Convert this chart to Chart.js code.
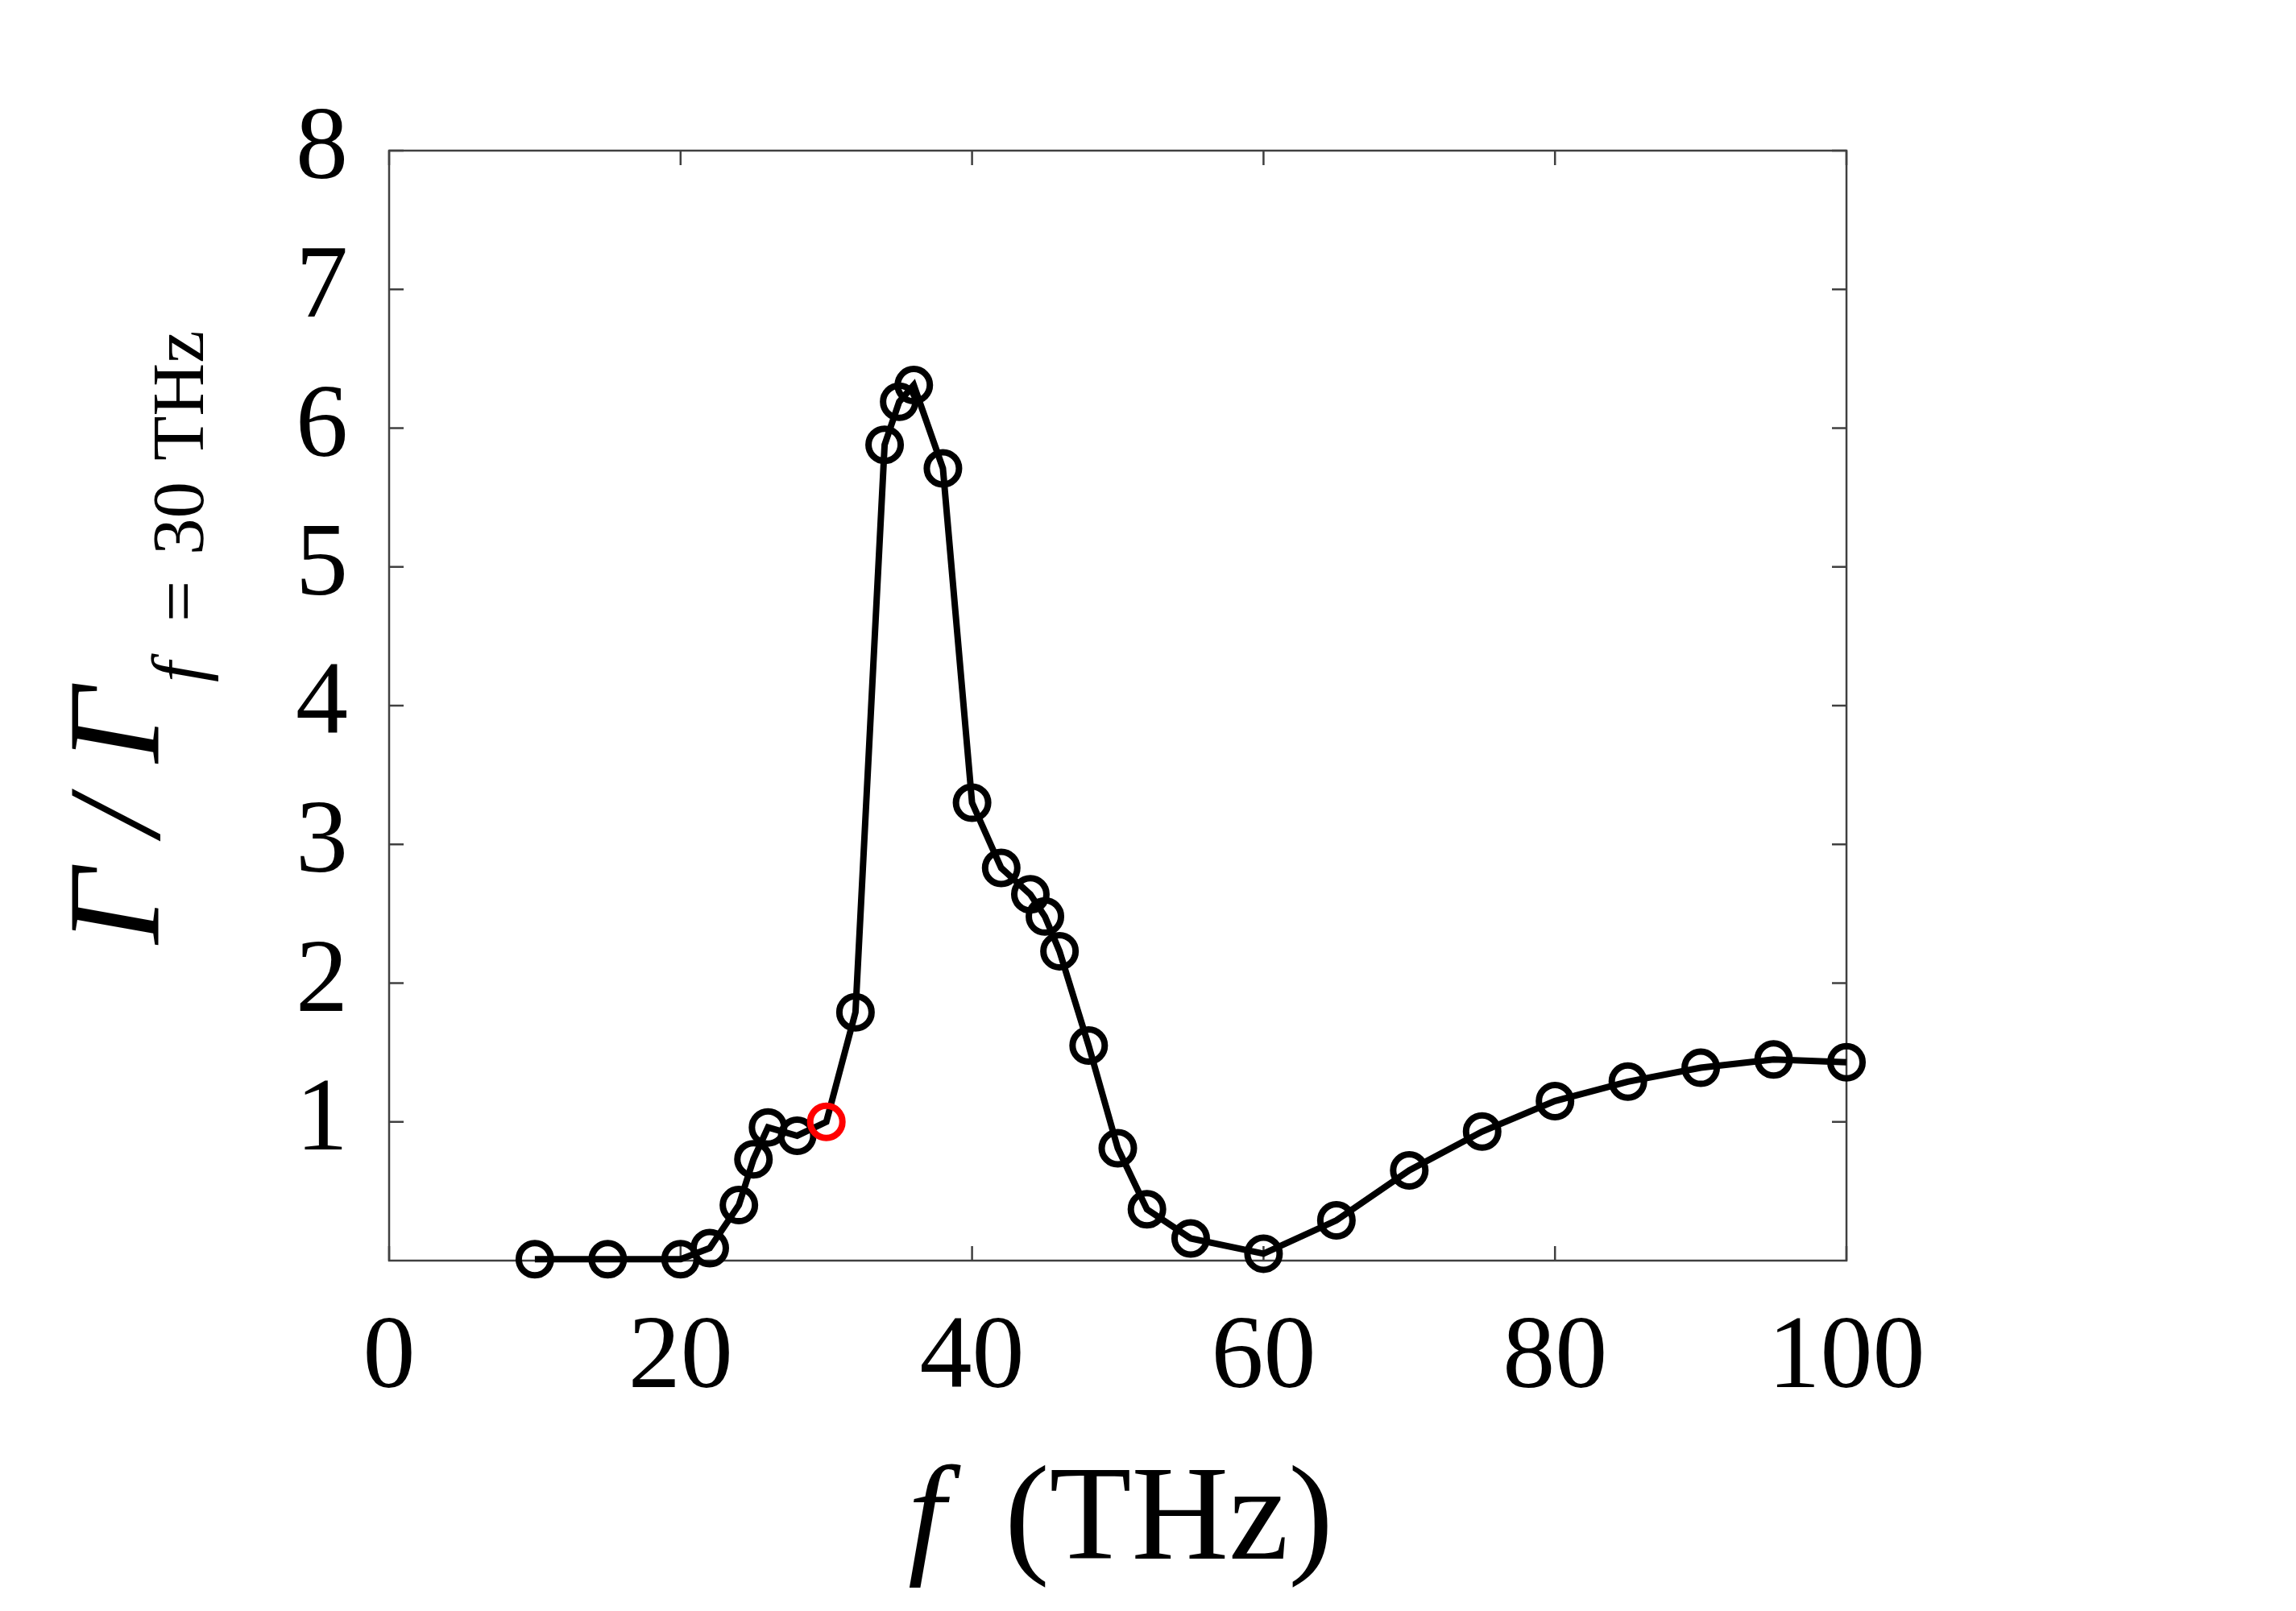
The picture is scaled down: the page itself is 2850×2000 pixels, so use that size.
<!DOCTYPE html>
<html><head><meta charset="utf-8">
<script src="https://cdn.jsdelivr.net/npm/chart.js@4.4.0/dist/chart.umd.min.js"></script>
<style>html,body{margin:0;padding:0;background:#fff;overflow:hidden}</style>
</head><body>
<canvas id="c" width="2850" height="2000" style="width:2850px;height:2000px;display:block"></canvas>
<script>
// ---- data ----
const frequencies = [10,15,20,22,24,25,26,28,30,32,34,35,36,38,40,42,44,45,46,48,50,52,55,60,65,70,75,80,85,90,95,100];
const ratios = [0.01,0.01,0.01,0.09,0.40,0.73,0.96,0.90,1.00,1.79,5.88,6.19,6.31,5.71,3.30,2.83,2.64,2.48,2.23,1.55,0.81,0.37,0.16,0.05,0.29,0.65,0.93,1.15,1.29,1.39,1.45,1.43];
const referenceFrequency = 30;
const xTicks = [0,20,40,60,80,100];
const yTicks = [1,2,3,4,5,6,7,8];

const SERIF = '"Liberation Serif", "Times New Roman", serif';

const framePlugin = {
  id: 'frame',
  beforeDatasetsDraw(chart) {
    const {ctx, chartArea: a, scales: {x, y}} = chart;
    ctx.save();
    ctx.strokeStyle = '#404040';
    ctx.lineWidth = 2.5;
    ctx.strokeRect(a.left, a.top, a.right - a.left, a.bottom - a.top);
    const L = 18;
    ctx.beginPath();
    x.ticks.forEach(t => {
      const px = x.getPixelForValue(t.value);
      ctx.moveTo(px, a.bottom); ctx.lineTo(px, a.bottom - L);
      ctx.moveTo(px, a.top); ctx.lineTo(px, a.top + L);
    });
    y.ticks.forEach(t => {
      const py = y.getPixelForValue(t.value);
      ctx.moveTo(a.left, py); ctx.lineTo(a.left + L, py);
      ctx.moveTo(a.right, py); ctx.lineTo(a.right - L, py);
    });
    ctx.stroke();
    ctx.restore();
  }
};

const titlePlugin = {
  id: 'titles',
  afterDraw(chart) {
    const ctx = chart.ctx;
    ctx.save();
    ctx.fillStyle = '#000';
    ctx.textBaseline = 'alphabetic';
    ctx.textAlign = 'left';
    // x axis title: f (THz)
    ctx.font = 'italic 167px ' + SERIF;
    ctx.fillText('f', 1127, 1935);
    ctx.font = '167px ' + SERIF;
    ctx.fillText('(THz)', 1247, 1935);
    // y axis title, rotated
    ctx.rotate(-Math.PI / 2);
    const y0 = 1172;
    const seg = (txt, font, u, base) => { ctx.font = font; ctx.fillText(txt, u - y0, base); };
    seg('Γ', 'italic 164px ' + SERIF, 0, 197);
    seg('/', 'italic 164px ' + SERIF, 135, 197);
    seg('Γ', 'italic 164px ' + SERIF, 225, 197);
    seg('f', 'italic 91px ' + SERIF, 325, 252);
    seg('=', '91px ' + SERIF, 400, 252);
    seg('30', '91px ' + SERIF, 483, 252);
    seg('THz', '91px ' + SERIF, 600, 252);
    ctx.restore();
  }
};

const points = frequencies.map((f, i) => ({x: f, y: ratios[i]}));
const borderColors = frequencies.map(f => f === referenceFrequency ? '#ff0000' : '#000000');

new Chart(document.getElementById('c'), {
  type: 'scatter',
  data: {
    datasets: [{
      data: points,
      showLine: true,
      borderColor: '#000',
      borderWidth: 8,
      tension: 0,
      pointRadius: 20,
      pointHoverRadius: 20,
      pointBorderWidth: 8,
      pointBorderColor: borderColors,
      pointBackgroundColor: 'rgba(0,0,0,0)',
      clip: false
    }]
  },
  options: {
    responsive: false,
    devicePixelRatio: 1,
    animation: false,
    events: [],
    layout: { padding: { left: 0, top: 187, right: 558, bottom: 0 } },
    plugins: { legend: { display: false }, tooltip: { enabled: false } },
    scales: {
      x: {
        type: 'linear', min: 0, max: 100,
        afterBuildTicks: s => { s.ticks = xTicks.map(v => ({value: v})); },
        afterFit: s => { s.height = 435; },
        grid: { display: false, drawTicks: false },
        border: { display: false },
        ticks: { color: '#000', padding: 45, maxRotation: 0, autoSkip: false,
                 font: { family: SERIF, size: 130 } }
      },
      y: {
        type: 'linear', min: 0, max: 8,
        afterBuildTicks: s => { s.ticks = yTicks.map(v => ({value: v})); },
        afterFit: s => { s.width = 483; },
        grid: { display: false, drawTicks: false },
        border: { display: false },
        ticks: { color: '#000', padding: 51, autoSkip: false,
                 font: { family: SERIF, size: 130 } }
      }
    }
  },
  plugins: [framePlugin, titlePlugin]
});
</script>
</body></html>
